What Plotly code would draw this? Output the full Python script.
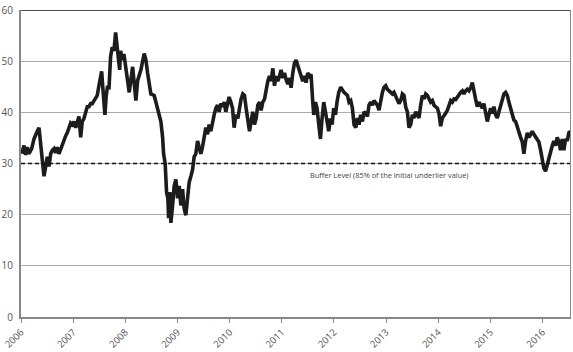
import plotly.graph_objects as go

# decimal-year positions and underlier values
t = [2006.013, 2006.057, 2006.090, 2006.121, 2006.153, 2006.205, 2006.249, 2006.282, 2006.312, 2006.345,
     2006.364, 2006.397, 2006.421, 2006.441, 2006.473, 2006.504, 2006.536, 2006.569, 2006.600, 2006.632,
     2006.665, 2006.695, 2006.728, 2006.761, 2006.791, 2006.824, 2006.856, 2006.887, 2006.920, 2006.952,
     2006.983, 2007.015, 2007.048, 2007.079, 2007.111, 2007.144, 2007.174, 2007.207, 2007.239, 2007.270,
     2007.303, 2007.335, 2007.366, 2007.398, 2007.431, 2007.462, 2007.494, 2007.527, 2007.546, 2007.571,
     2007.590, 2007.609, 2007.634, 2007.661, 2007.686, 2007.718, 2007.749, 2007.782, 2007.814, 2007.833,
     2007.864, 2007.891, 2007.910, 2007.941, 2007.973, 2008.006, 2008.044, 2008.075, 2008.140, 2008.170,
     2008.203, 2008.236, 2008.299, 2008.362, 2008.395, 2008.427, 2008.458, 2008.490, 2008.554, 2008.586,
     2008.619, 2008.649, 2008.682, 2008.715, 2008.734, 2008.764, 2008.791, 2008.816, 2008.830, 2008.854,
     2008.874, 2008.906, 2008.937, 2008.969, 2009.002, 2009.033, 2009.065, 2009.098, 2009.128, 2009.161,
     2009.193, 2009.224, 2009.257, 2009.289, 2009.320, 2009.352, 2009.385, 2009.416, 2009.448, 2009.481,
     2009.511, 2009.544, 2009.577, 2009.607, 2009.640, 2009.672, 2009.703, 2009.736, 2009.768, 2009.799,
     2009.831, 2009.864, 2009.895, 2009.927, 2009.960, 2009.990, 2010.023, 2010.056, 2010.086, 2010.119,
     2010.157, 2010.190, 2010.220, 2010.253, 2010.285, 2010.316, 2010.349, 2010.381, 2010.412, 2010.444,
     2010.477, 2010.508, 2010.540, 2010.573, 2010.603, 2010.636, 2010.669, 2010.699, 2010.732, 2010.764,
     2010.795, 2010.828, 2010.860, 2010.891, 2010.923, 2010.956, 2010.987, 2011.019, 2011.052, 2011.082,
     2011.115, 2011.148, 2011.178, 2011.211, 2011.243, 2011.274, 2011.307, 2011.339, 2011.370, 2011.402,
     2011.435, 2011.466, 2011.498, 2011.531, 2011.561, 2011.594, 2011.613, 2011.646, 2011.676, 2011.709,
     2011.741, 2011.772, 2011.805, 2011.837, 2011.868, 2011.900, 2011.933, 2011.964, 2011.996, 2012.029,
     2012.059, 2012.092, 2012.130, 2012.194, 2012.259, 2012.289, 2012.322, 2012.354, 2012.385, 2012.418,
     2012.450, 2012.481, 2012.513, 2012.546, 2012.577, 2012.609, 2012.642, 2012.672, 2012.705, 2012.738,
     2012.768, 2012.801, 2012.833, 2012.864, 2012.897, 2012.929, 2012.960, 2012.992, 2013.025, 2013.056,
     2013.088, 2013.121, 2013.151, 2013.184, 2013.216, 2013.247, 2013.280, 2013.312, 2013.343, 2013.375,
     2013.408, 2013.439, 2013.471, 2013.504, 2013.534, 2013.567, 2013.600, 2013.630, 2013.663, 2013.695,
     2013.726, 2013.759, 2013.791, 2013.822, 2013.854, 2013.887, 2013.918, 2013.950, 2013.983, 2014.013,
     2014.046, 2014.079, 2014.109, 2014.142, 2014.174, 2014.205, 2014.238, 2014.270, 2014.301, 2014.333,
     2014.366, 2014.397, 2014.429, 2014.462, 2014.492, 2014.525, 2014.557, 2014.588, 2014.621, 2014.653,
     2014.684, 2014.716, 2014.749, 2014.780, 2014.812, 2014.845, 2014.875, 2014.908, 2014.940, 2014.971,
     2015.004, 2015.036, 2015.067, 2015.100, 2015.132, 2015.163, 2015.195, 2015.228, 2015.259, 2015.291,
     2015.324, 2015.354, 2015.387, 2015.420, 2015.450, 2015.483, 2015.515, 2015.546, 2015.579, 2015.611,
     2015.642, 2015.674, 2015.707, 2015.738, 2015.770, 2015.803, 2015.833, 2015.866, 2015.898, 2015.929,
     2015.962, 2015.994, 2016.025, 2016.057, 2016.090, 2016.121, 2016.153, 2016.186, 2016.216, 2016.249,
     2016.282, 2016.312, 2016.345, 2016.377, 2016.408, 2016.441, 2016.473, 2016.504, 2016.536]

values = [31.9, 33.5, 31.7, 33.2, 31.9, 32.9, 34.8, 35.4, 36.3, 37.0,
          35.0, 32.0, 30.0, 27.5, 29.4, 31.3, 29.4, 31.9, 32.6, 32.9,
          32.1, 33.2, 31.9, 32.9, 33.5, 34.4, 35.4, 36.0, 37.0, 37.9,
          37.6, 38.2, 37.0, 38.2, 39.2, 35.1, 38.2, 38.8, 40.1, 41.1,
          41.1, 41.7, 41.7, 42.3, 42.6, 43.3, 45.2, 47.7, 48.0, 44.5,
          42.6, 39.5, 43.3, 45.2, 44.5, 50.9, 52.7, 52.0, 55.6, 53.4,
          49.6, 48.3, 52.0, 50.2, 51.4, 48.9, 45.8, 43.9, 48.9, 45.8,
          42.3, 46.2, 48.3, 51.5, 50.2, 47.7, 45.2, 43.6, 43.3, 42.0,
          40.4, 39.5, 38.2, 35.1, 31.9, 30.0, 24.4, 23.2, 19.3, 24.4,
          18.4, 21.8, 25.6, 26.9, 23.2, 25.6, 21.8, 25.0, 21.2, 19.9,
          23.2, 26.3, 27.5, 28.8, 31.3, 31.9, 34.4, 33.3, 31.9, 33.3,
          35.1, 37.0, 35.7, 37.6, 36.3, 38.2, 39.5, 40.8, 41.4, 40.1,
          41.7, 41.1, 42.0, 40.1, 41.7, 43.0, 42.0, 40.8, 37.0, 39.5,
          38.8, 41.4, 42.6, 43.6, 43.3, 40.8, 38.2, 36.3, 38.2, 40.1,
          37.6, 38.8, 41.4, 42.0, 40.4, 42.0, 42.6, 44.5, 46.1, 47.1,
          46.1, 48.6, 45.2, 47.1, 46.1, 47.1, 48.3, 46.7, 47.7, 46.4,
          45.5, 46.7, 44.8, 47.7, 49.6, 50.2, 48.9, 48.3, 47.1, 46.1,
          47.1, 45.8, 47.7, 47.1, 47.4, 42.0, 39.5, 42.0, 40.8, 37.6,
          34.8, 38.8, 42.0, 40.1, 37.6, 36.3, 38.8, 37.6, 40.8, 39.5,
          42.0, 43.9, 44.9, 43.9, 43.3, 42.0, 42.3, 40.8, 37.6, 37.0,
          38.9, 37.6, 39.5, 38.2, 40.1, 39.8, 39.2, 41.4, 42.0, 41.4,
          42.3, 41.7, 41.4, 40.4, 42.3, 43.9, 44.9, 45.2, 44.5, 44.2,
          43.9, 43.6, 43.9, 43.0, 42.6, 41.7, 42.3, 43.6, 43.3, 41.1,
          40.1, 37.0, 37.6, 39.5, 38.9, 40.1, 39.5, 38.9, 41.4, 43.3,
          42.6, 43.6, 43.3, 42.6, 42.0, 42.3, 41.4, 41.1, 40.8, 39.8,
          37.3, 38.9, 39.5, 39.8, 40.4, 41.4, 42.3, 42.0, 42.6, 42.5,
          43.0, 43.6, 43.9, 44.2, 43.6, 44.2, 44.5, 44.2, 44.8, 45.8,
          43.9, 42.6, 41.1, 42.0, 41.4, 40.8, 41.7, 39.5, 38.2, 39.5,
          40.8, 39.8, 41.1, 39.5, 38.9, 40.1, 41.4, 42.6, 43.6, 43.9,
          43.3, 42.0, 40.8, 39.5, 38.5, 38.2, 37.0, 36.3, 35.1, 34.2,
          31.9, 34.4, 36.0, 35.1, 35.7, 36.3, 35.7, 35.1, 34.8, 34.2,
          32.6, 30.7, 29.1, 28.5, 29.9, 31.0, 32.6, 33.5, 34.4, 33.5,
          35.1, 34.2, 32.6, 34.8, 32.6, 34.8, 34.4, 36.0, 36.3]

year_ticks = list(range(2006, 2017))
year_labels = [str(y) for y in year_ticks]
buffer_level = 30.0
buffer_label = "Buffer Level (85% of the initial underlier value)"
x_end = 2016.545

fig = go.Figure()
fig.add_trace(go.Scatter(x=t, y=values, mode="lines",
                         line=dict(color="#1c1c1c", width=3.6), showlegend=False,
                         hoverinfo="skip"))

fig.add_shape(type="line", xref="x", yref="y", x0=2006, x1=x_end,
              y0=buffer_level, y1=buffer_level,
              line=dict(color="#111111", width=1.3, dash="4px,3px"), layer="above")
# frame: top black, right gray
fig.add_shape(type="line", xref="x", yref="y", x0=2006, x1=x_end, y0=60, y1=60,
              line=dict(color="#111111", width=1.5), layer="above")
fig.add_shape(type="line", xref="x", yref="y", x0=x_end, x1=x_end, y0=0, y1=60,
              line=dict(color="#888888", width=2), layer="above")

fig.add_annotation(x=2013.07, y=27.8, xref="x", yref="y", text=buffer_label,
                   showarrow=False, font=dict(family="Open Sans", size=7.4, color="#444444"))

fig.update_layout(
    width=573, height=352,
    margin=dict(l=20, r=2, t=5, b=30),
    paper_bgcolor="white", plot_bgcolor="white",
    font=dict(family="Open Sans", color="#555555", size=10),
    xaxis=dict(range=[2006, x_end], tickvals=year_ticks, ticktext=year_labels,
               tickangle=-45, showgrid=False, zeroline=False,
               showline=True, linecolor="#888888", linewidth=2,
               ticks="outside", ticklen=4, tickcolor="#888888", tickwidth=1,
               tickfont=dict(size=9.5, color="#555555")),
    yaxis=dict(range=[0, 60], dtick=10, showgrid=True, gridcolor="#aaaaaa", gridwidth=1,
               zeroline=False, showline=True, linecolor="#888888", linewidth=2,
               ticks="", ticklabelstandoff=4, ticklabeloverflow="allow",
               tickfont=dict(size=10, color="#555555")),
)

fig.write_html("out.html")
